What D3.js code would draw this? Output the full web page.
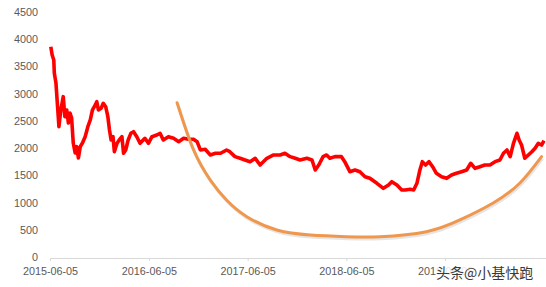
<!DOCTYPE html>
<html lang="zh">
<head>
<meta charset="utf-8" />
<title>chart</title>
<script src="https://d3js.org/d3.v7.min.js"></script>
<style>
  body { margin: 0; background: #fff; }
  text { font-family: "Liberation Sans", "DejaVu Sans", sans-serif; }
</style>
</head>
<body>
<div id="chart"></div>
<script>
var dates = [
  "2015-06-08","2015-06-13","2015-06-19","2015-06-21","2015-06-27","2015-07-03","2015-07-08","2015-07-15",
  "2015-07-24","2015-07-30","2015-08-06","2015-08-12","2015-08-18","2015-08-24","2015-08-30","2015-09-06",
  "2015-09-12","2015-09-18","2015-09-25","2015-10-03","2015-10-13","2015-10-23","2015-11-01","2015-11-09",
  "2015-11-16","2015-11-25","2015-12-01","2015-12-11","2015-12-19","2015-12-28","2016-01-05","2016-01-11",
  "2016-01-17","2016-01-24","2016-01-29","2016-02-08","2016-02-16","2016-02-26","2016-03-03","2016-03-11",
  "2016-03-20","2016-03-30","2016-04-09","2016-04-21","2016-05-03","2016-05-21","2016-06-03","2016-06-16",
  "2016-07-04","2016-07-16","2016-07-28","2016-08-16","2016-09-04","2016-09-23","2016-10-11","2016-10-29",
  "2016-11-17","2016-11-30","2016-12-12","2016-12-30","2017-01-18","2017-02-06","2017-02-25","2017-03-19",
  "2017-03-31","2017-04-19","2017-05-08","2017-05-26","2017-06-14","2017-07-03","2017-07-21","2017-08-15",
  "2017-09-09","2017-10-03","2017-10-21","2017-11-09","2017-11-28","2017-12-16","2018-01-10","2018-01-29",
  "2018-02-10","2018-02-23","2018-03-11","2018-03-24","2018-04-05","2018-04-24","2018-05-18","2018-05-30",
  "2018-06-18","2018-07-07","2018-07-25","2018-08-13","2018-08-31","2018-09-26","2018-10-20","2018-11-08",
  "2018-11-20","2018-12-09","2018-12-27","2019-01-09","2019-01-27","2019-02-09","2019-02-21","2019-03-04",
  "2019-03-13","2019-03-25","2019-04-07","2019-04-20","2019-05-04","2019-05-23","2019-06-11","2019-06-29",
  "2019-07-17","2019-08-05","2019-08-24","2019-09-08","2019-09-24","2019-10-12","2019-10-30","2019-11-18",
  "2019-12-07","2019-12-25","2020-01-07","2020-01-20","2020-02-01","2020-02-13","2020-02-26","2020-03-05",
  "2020-03-14","2020-03-26","2020-04-08","2020-04-21","2020-05-03","2020-05-15","2020-05-27","2020-06-05"
];
var values = [
  3863,3711,3619,3375,3196,2761,2394,2700,
  2945,2577,2700,2461,2645,2553,2094,1910,
  2026,1818,2026,2094,2210,2394,2517,2700,
  2761,2853,2700,2731,2823,2761,2577,2333,
  2149,2210,1934,2088,2149,2210,1905,1966,
  2149,2272,2302,2210,2088,2180,2088,2210,
  2241,2272,2149,2210,2180,2118,2180,2162,
  2162,2118,1966,1978,1874,1905,1905,1966,
  1934,1843,1813,1782,1751,1813,1690,1813,
  1874,1874,1905,1843,1813,1782,1813,1782,
  1598,1690,1843,1874,1813,1843,1843,1751,
  1567,1598,1567,1475,1445,1353,1261,1322,
  1383,1322,1230,1230,1243,1230,1353,1598,
  1751,1690,1751,1659,1537,1475,1445,1506,
  1537,1567,1598,1721,1629,1659,1690,1690,
  1751,1782,1905,1966,1843,2088,2272,2149,
  2057,1813,1874,1934,1997,2088,2057,2137
];

// hand-drawn orange arc annotation, in data terms
var arcDates = ["2016-09-17","2016-11-17","2017-01-18","2017-03-19","2017-06-02","2017-09-21","2018-01-23",
                "2018-06-06","2018-10-08","2019-03-28","2019-07-30","2019-11-30","2020-03-08","2020-05-27"];
var arcValues = [2834,1966,1414,1047,741,496,404,373,373,465,680,992,1359,1843];

var yTicks = [0,500,1000,1500,2000,2500,3000,3500,4000,4500];
var xTickLabels = ["2015-06-05","2016-06-05","2017-06-05","2018-06-05","2019-06-05"];
var watermark = "头条@小基快跑";

var W = 546, H = 287;
var margin = { top: 12, right: 2, bottom: 30, left: 50 };

var parse = d3.timeParse("%Y-%m-%d");

var svg = d3.select("#chart").append("svg")
  .attr("width", W).attr("height", H);

var x = d3.scaleTime()
  .domain([parse("2015-06-05"), parse("2020-06-05")])
  .range([margin.left, 544]);
var y = d3.scaleLinear()
  .domain([0, 4500])
  .range([257, margin.top]);

// y labels, no axis line
var yAxis = svg.append("g")
  .attr("transform", "translate(" + (margin.left - 12) + ",0)")
  .call(d3.axisLeft(y).tickValues(yTicks).tickFormat(d3.format("d")).tickSize(0).tickPadding(0));
yAxis.select(".domain").remove();
yAxis.selectAll("text").attr("fill", "#595959").style("font-size", "10.8px");

// x axis
var xAxis = svg.append("g")
  .attr("transform", "translate(0,258)")
  .call(d3.axisBottom(x)
    .tickValues(xTickLabels.map(parse))
    .tickFormat(d3.timeFormat("%Y-%m-%d"))
    .tickSizeOuter(0).tickSizeInner(3).tickPadding(6));
xAxis.select(".domain").attr("stroke", "#d9d9d9").attr("d", "M" + margin.left + ",0.5H546");
xAxis.selectAll(".tick line").attr("stroke", "#d9d9d9");
xAxis.selectAll("text").attr("fill", "#595959").style("font-size", "10.8px");

// series
var pts = dates.map(function (d, i) { return { date: parse(d), v: values[i] }; });
var line = d3.line()
  .x(function (d) { return x(d.date); })
  .y(function (d) { return y(d.v); });

svg.append("path")
  .datum(pts)
  .attr("fill", "none")
  .attr("stroke", "#ff0000")
  .attr("stroke-width", 3.6)
  .attr("stroke-linejoin", "round")
  .attr("d", line);

// orange arc with soft shadow
var arcPts = arcDates.map(function (d, i) { return { date: parse(d), v: arcValues[i] }; });
var arcLine = d3.line()
  .x(function (d) { return x(d.date); })
  .y(function (d) { return y(d.v); })
  .curve(d3.curveNatural);

svg.append("path")
  .datum(arcPts)
  .attr("fill", "none")
  .attr("stroke", "#bfbfbf")
  .attr("stroke-opacity", 0.4)
  .attr("stroke-width", 3)
  .attr("transform", "translate(1,2)")
  .attr("d", arcLine);
svg.append("path")
  .datum(arcPts)
  .attr("fill", "none")
  .attr("stroke", "#f0974e")
  .attr("stroke-width", 3)
  .attr("stroke-linecap", "round")
  .attr("d", arcLine);

// watermark over the last label
var wm = svg.append("g").attr("transform", "translate(436,278)");
wm.append("rect").attr("x", 0).attr("y", -13).attr("width", 100).attr("height", 17).attr("fill", "#fff").attr("fill-opacity", 0.85);
wm.append("text")
  .attr("x", 0).attr("y", 0)
  .attr("fill", "#3a3a3a")
  .style("font-family", "'Noto Sans CJK SC', sans-serif")
  .style("font-size", "14px")
  .text(watermark);
</script>
</body>
</html>
